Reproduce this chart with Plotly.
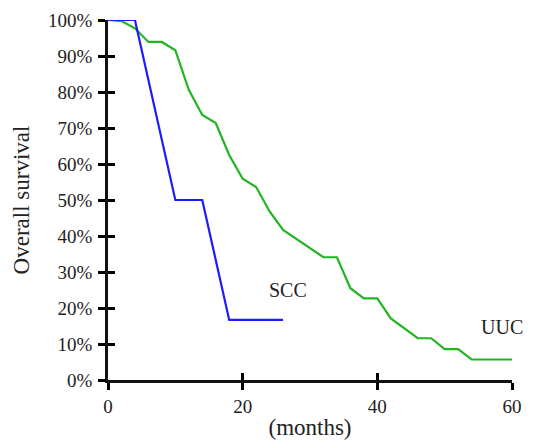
import plotly.graph_objects as go

# Data (months, overall survival %)
scc_months = [0, 4, 10, 14, 18, 26]
scc_surv = [100, 100, 50, 50, 16.7, 16.7]

uuc_months = [0, 2, 4, 6, 8, 10, 12, 14, 16, 18, 20, 22, 24, 26, 32, 34, 36, 38, 40, 42, 46, 48, 50, 52, 54, 60]
uuc_surv = [100, 99.7, 97.7, 93.9, 93.9, 91.6, 80.6, 73.6, 71.4, 62.5, 55.9, 53.6, 46.8, 41.7, 34.1, 34.1,
            25.5, 22.7, 22.7, 17.1, 11.6, 11.6, 8.6, 8.6, 5.7, 5.7]

x_ticks = [0, 20, 40, 60]
y_ticks = [0, 10, 20, 30, 40, 50, 60, 70, 80, 90, 100]
y_ticklabels = [f"{v}%" for v in y_ticks]

X_RANGE = [0, 60]
Y_RANGE = [0, 100]

labels = ["SCC", "UUC"]
label_x = [26.7, 61.9]
label_y = [21.4, 11.1]

FONT = "Liberation Serif"
BLUE = "#1c1cff"
GREEN = "#22b422"
INK = "#000000"

fig = go.Figure()
fig.add_trace(go.Scatter(x=uuc_months, y=uuc_surv, mode="lines", line=dict(color=GREEN, width=2.2),
                         name="UUC", cliponaxis=False))
fig.add_trace(go.Scatter(x=scc_months, y=scc_surv, mode="lines", line=dict(color=BLUE, width=2.2),
                         name="SCC", cliponaxis=False))
# invisible trace so that the overlay axes (inner half of the crossing ticks) are drawn
fig.add_trace(go.Scatter(x=scc_months, y=scc_surv, mode="lines", line=dict(width=0), opacity=0,
                         xaxis="x2", yaxis="y2", hoverinfo="skip"))

for t, lx, ly in zip(labels, label_x, label_y):
    fig.add_annotation(x=(lx - X_RANGE[0]) / (X_RANGE[1] - X_RANGE[0]),
                       y=(ly - Y_RANGE[0]) / (Y_RANGE[1] - Y_RANGE[0]),
                       xref="paper", yref="paper", text=t, showarrow=False,
                       font=dict(family=FONT, size=20, color="#222"))

axis_common = dict(showgrid=False, zeroline=False, automargin=False)
fig.update_layout(
    width=554, height=447,
    margin=dict(l=100, r=50, t=12, b=75),
    paper_bgcolor="white", plot_bgcolor="white",
    showlegend=False,
    font=dict(family=FONT, color="#222"),
    xaxis=dict(range=X_RANGE, tickvals=x_ticks, ticks="outside", ticklen=7, tickwidth=2.5, tickcolor=INK,
               showline=True, linecolor="#111", linewidth=2.5, tickfont=dict(size=19, family=FONT),
               title=dict(text="(months)", font=dict(size=23, family=FONT), standoff=4), **axis_common),
    yaxis=dict(range=Y_RANGE, tickvals=y_ticks, ticktext=y_ticklabels, ticks="outside", ticklen=7, tickwidth=2.5,
               tickcolor=INK, showline=True, linecolor="#111", linewidth=2.5,
               tickfont=dict(size=19, family=FONT), ticklabelstandoff=2,
               title=dict(text="Overall survival", font=dict(size=23, family=FONT), standoff=13), **axis_common),
    xaxis2=dict(range=X_RANGE, tickvals=x_ticks, ticks="inside", ticklen=7, tickwidth=2.5, tickcolor=INK,
                showticklabels=False, overlaying="x", anchor="y2", side="bottom", **axis_common),
    yaxis2=dict(range=Y_RANGE, tickvals=y_ticks, ticks="inside", ticklen=7, tickwidth=2.5, tickcolor=INK,
                showticklabels=False, overlaying="y", anchor="x2", side="left", **axis_common),
)

fig.write_html("out.html")
